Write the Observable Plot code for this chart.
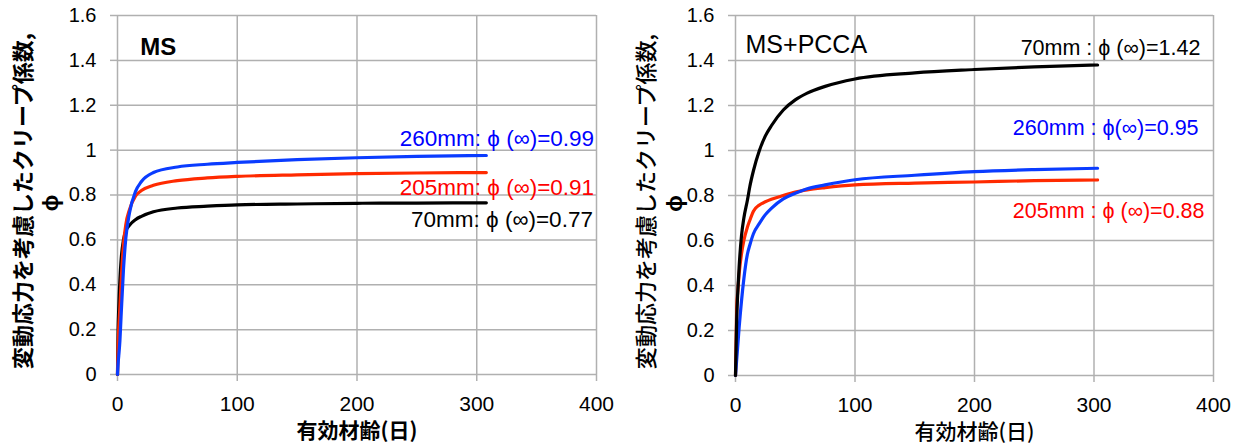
<!DOCTYPE html>
<html><head><meta charset="utf-8">
<script src="https://cdn.jsdelivr.net/npm/d3@7"></script>
<script src="https://cdn.jsdelivr.net/npm/@observablehq/plot@0.6"></script>
<style>
body{margin:0;background:#fff;}
#wrap{position:relative;width:1242px;height:448px;overflow:hidden;background:#fff}
#wrap svg{position:absolute;top:0;overflow:visible}
</style></head><body><div id="wrap"></div>
<script>
// ---- data ----
const xTicks = [0, 100, 200, 300, 400];
const yTicks = [0, 0.2, 0.4, 0.6, 0.8, 1, 1.2, 1.4, 1.6];
const yTickLabels = ["0", "0.2", "0.4", "0.6", "0.8", "1", "1.2", "1.4", "1.6"];
const xLabel = "有効材齢(日)";
const yLabel = "変動応力を考慮したクリープ係数,";
const yLabel2 = "ϕ";

// Panel 1: MS
const msTitle = "MS";
const msDays = [0, 0.5, 1, 2, 3, 5, 7, 10, 15, 20, 30, 50, 75, 100, 150, 200, 250, 308];
const ms70  = [0, 0.20, 0.29, 0.42, 0.51, 0.60, 0.64, 0.665, 0.69, 0.705, 0.725, 0.742, 0.75, 0.756, 0.76, 0.763, 0.764, 0.765];
const ms205 = [0, 0.12, 0.20, 0.30, 0.41, 0.58, 0.67, 0.735, 0.795, 0.82, 0.843, 0.864, 0.876, 0.883, 0.89, 0.895, 0.898, 0.90];
const ms260 = [0, 0.05, 0.08, 0.15, 0.26, 0.47, 0.61, 0.72, 0.815, 0.86, 0.9, 0.925, 0.937, 0.945, 0.958, 0.966, 0.972, 0.976];
const msNotes = ["260mm: ϕ (∞)=0.99", "205mm: ϕ (∞)=0.91", "70mm: ϕ (∞)=0.77"];
const msNoteX = [398, 398, 397];
const msNoteY = [1.052, 0.833, 0.691];

// Panel 2: MS+PCCA
const pcTitle = "MS+PCCA";
const pcDays = [0, 1, 2, 3, 5, 7, 10, 12, 15, 20, 25, 30, 40, 50, 60, 75, 100, 150, 200, 250, 303];
const pc70  = [0, 0.25, 0.38, 0.48, 0.62, 0.70, 0.78, 0.84, 0.91, 1.00, 1.065, 1.11, 1.18, 1.225, 1.255, 1.285, 1.318, 1.345, 1.36, 1.372, 1.38];
const pc205 = [0, 0.30, 0.38, 0.45, 0.54, 0.60, 0.66, 0.69, 0.73, 0.758, 0.772, 0.783, 0.80, 0.815, 0.825, 0.835, 0.847, 0.855, 0.86, 0.866, 0.869];
const pc260 = [0, 0.07, 0.14, 0.21, 0.33, 0.43, 0.54, 0.58, 0.63, 0.676, 0.715, 0.743, 0.785, 0.81, 0.83, 0.847, 0.87, 0.89, 0.906, 0.915, 0.921];
const pcNotes = ["70mm : ϕ (∞)=1.42", "260mm : ϕ(∞)=0.95", "205mm : ϕ (∞)=0.88"];
const pcNoteX = [389, 387.5, 392.5];
const pcNoteY = [1.453, 1.098, 0.729];

const lineColors = {"70mm": "#000000", "205mm": "#ff2a00", "260mm": "#0a3cff"};
const textColors = {"70mm": "#000000", "205mm": "#ff0000", "260mm": "#0000ff"};

// ---- build tables ----
function rows(days, vals, name) { return days.map((d, i) => ({day: d, phi: vals[i], s: name})); }
const msRows = [...rows(msDays, ms70, "70mm"), ...rows(msDays, ms205, "205mm"), ...rows(msDays, ms260, "260mm")];
const pcRows = [...rows(pcDays, pc70, "70mm"), ...rows(pcDays, pc205, "205mm"), ...rows(pcDays, pc260, "260mm")];
const msNoteRows = msNotes.map((t, i) => ({t, x: msNoteX[i], y: msNoteY[i], s: t.split(/ ?:/)[0]}));
const pcNoteRows = pcNotes.map((t, i) => ({t, x: pcNoteX[i], y: pcNoteY[i], s: t.split(/ ?:/)[0]}));

const JP = "'Noto Sans CJK JP', 'Liberation Sans', sans-serif";
const NUM = "'Liberation Sans', 'DejaVu Sans', 'Noto Sans CJK JP', sans-serif";

function panel(opts) {
  const {width, ml, mr, mb, rowsData, notes, noteSize, title, titleX, titleY, titleWeight, titleSize, order, bold, ylx, ylx2} = opts;
  return Plot.plot({
    width, height: 448,
    marginLeft: ml, marginRight: mr, marginTop: 15, marginBottom: mb,
    style: {fontFamily: NUM, fontSize: "20px", color: "#000", background: "transparent", overflow: "visible"},
    x: {domain: [0, 400]},
    y: {domain: [0, 1.6]},
    marks: [
      Plot.gridX(xTicks, {stroke: "#b0b0b0", strokeOpacity: 1, strokeWidth: 1.5}),
      Plot.gridY(yTicks, {stroke: "#b0b0b0", strokeOpacity: 1, strokeWidth: 1.5}),
      Plot.axisX({ticks: xTicks, tickSize: 7, tickPadding: 15, stroke: "#b0b0b0", strokeWidth: 1.5, label: null, fontSize: 21, fill: "#000"}),
      Plot.axisY({ticks: yTicks, tickFormat: (d) => yTickLabels[yTicks.indexOf(d)], tickSize: 7, tickPadding: 14, stroke: "#b0b0b0", strokeWidth: 1.5, label: null, fontSize: 20, fill: "#000"}),
      ...order.map((name) => Plot.line(rowsData.filter((r) => r.s === name), {
        x: "day", y: "phi", stroke: lineColors[name], strokeWidth: 3.2, curve: "monotone-x"
      })),
      Plot.text(notes, {x: "x", y: "y", text: "t", fill: (d) => textColors[d.s], textAnchor: "end", fontFamily: NUM, fontSize: noteSize}),
      Plot.text([title], {x: titleX, y: titleY, text: (d) => d, textAnchor: "start", fontFamily: NUM, fontSize: titleSize, fontWeight: titleWeight, fill: "#000"}),
      Plot.text([xLabel], {frameAnchor: "bottom", dy: 63, text: (d) => d, fontFamily: JP, fontSize: 21, fontWeight: bold, fill: "#000"}),
      Plot.text([yLabel], {frameAnchor: "left", textAnchor: "middle", dx: ylx, dy: 6, rotate: -90, text: (d) => d, fontFamily: JP, fontSize: 22, fontWeight: bold, fill: "#000"}),
      Plot.text([yLabel2], {frameAnchor: "left", textAnchor: "middle", dx: ylx2, dy: 8, rotate: -90, text: (d) => d, fontFamily: NUM, fontSize: 22, fontWeight: "bold", fill: "#000"})
    ]
  });
}

const p1 = panel({width: 620, ml: 117, mr: 24, mb: 74, rowsData: msRows, notes: msNoteRows, noteSize: 22.5,
  title: msTitle, titleX: 19, titleY: 1.46, titleWeight: "bold", titleSize: 24,
  order: ["70mm", "205mm", "260mm"], bold: "bold", ylx: -94, ylx2: -67});
const p2 = panel({width: 622, ml: 115, mr: 29, mb: 73, rowsData: pcRows, notes: pcNoteRows, noteSize: 21.5,
  title: pcTitle, titleX: 8.4, titleY: 1.467, titleWeight: "normal", titleSize: 25,
  order: ["205mm", "260mm", "70mm"], bold: "500", ylx: -89, ylx2: -61});
p1.style.left = "0px";
p2.style.left = "620px";
document.getElementById("wrap").append(p1, p2);
</script>
</body></html>
